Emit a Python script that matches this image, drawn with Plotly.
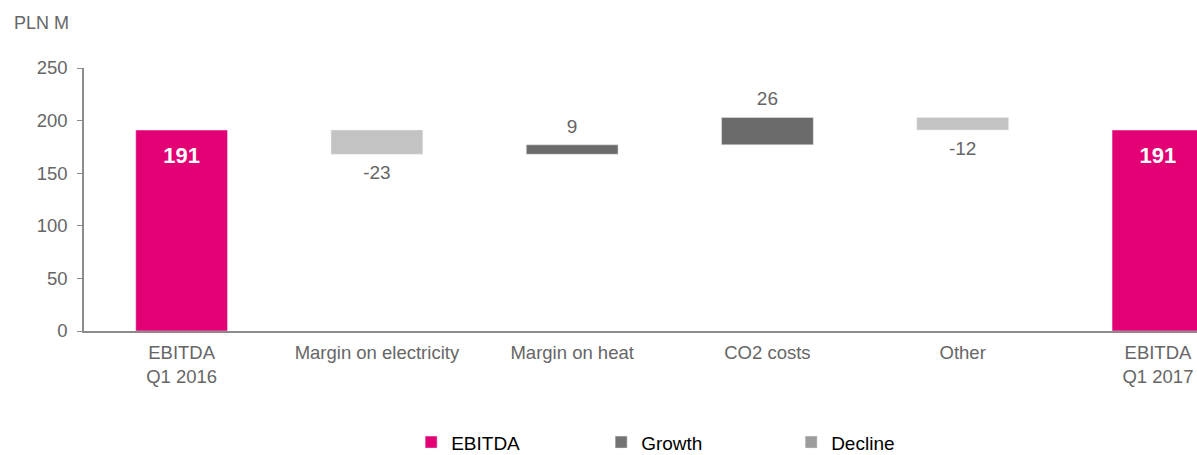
import plotly.graph_objects as go

categories = ["EBITDA<br>Q1 2016", "Margin on electricity", "Margin on heat", "CO2 costs", "Other", "EBITDA<br>Q1 2017"]
values = [191, -23, 9, 26, -12, 191]
kinds = ["total", "delta", "delta", "delta", "delta", "total"]
y_ticks = [0, 50, 100, 150, 200, 250]

MAGENTA = "#E20074"
GROWTH = "#6B6B6B"
DECLINE = "#C3C3C3"
GROWTH_LEG = "#737373"
DECLINE_LEG = "#9C9C9C"
TXT = "#666666"
FONT = "Liberation Sans, Arial, sans-serif"
BAR_W = 0.47

# bases from running total
bases = []
running = 0
for v, k in zip(values, kinds):
    if k == "total":
        bases.append(0)
        running = v
    else:
        bases.append(running)
        running += v

def pick(cond):
    idx = [i for i in range(len(values)) if cond(i)]
    return ([categories[i] for i in idx], [values[i] for i in idx], [bases[i] for i in idx])

fig = go.Figure()

# bars (not in legend)
tx, ty, tb = pick(lambda i: kinds[i] == "total")
fig.add_trace(go.Bar(x=tx, y=ty, base=tb, marker_color=MAGENTA, width=BAR_W,
                     showlegend=False, hoverinfo="skip"))
gx, gy, gb = pick(lambda i: kinds[i] == "delta" and values[i] > 0)
fig.add_trace(go.Bar(x=gx, y=gy, base=gb, marker_color=GROWTH, width=BAR_W,
                     showlegend=False, hoverinfo="skip"))
dx, dy, db = pick(lambda i: kinds[i] == "delta" and values[i] < 0)
fig.add_trace(go.Bar(x=dx, y=dy, base=db, marker_color=DECLINE, width=BAR_W,
                     showlegend=False, hoverinfo="skip"))

# value labels
fig.add_trace(go.Scatter(x=tx, y=[b + v - 26 for v, b in zip(ty, tb)], mode="text",
                         text=[str(v) for v in ty], showlegend=False, hoverinfo="skip",
                         textfont=dict(color="white", size=22, family=FONT, weight="bold")))
fig.add_trace(go.Scatter(x=gx, y=[b + v + 16 for v, b in zip(gy, gb)], mode="text",
                         text=[str(v) for v in gy], showlegend=False, hoverinfo="skip",
                         textfont=dict(color=TXT, size=19, family=FONT)))
fig.add_trace(go.Scatter(x=dx, y=[b + v - 19 for v, b in zip(dy, db)], mode="text",
                         text=[str(v) for v in dy], showlegend=False, hoverinfo="skip",
                         textfont=dict(color=TXT, size=19, family=FONT)))

# legend entries
for name, col in [("EBITDA", MAGENTA), ("Growth", GROWTH_LEG), ("Decline", DECLINE_LEG)]:
    fig.add_trace(go.Bar(name=name, x=[categories[0]], y=[None], marker_color=col,
                         width=BAR_W, hoverinfo="skip"))

fig.update_layout(
    width=1197, height=455,
    margin=dict(l=84, r=0, t=68, b=124, autoexpand=False),
    paper_bgcolor="white", plot_bgcolor="white",
    barmode="overlay",
    font=dict(family=FONT, color=TXT, size=16),
    showlegend=True,
    legend=dict(orientation="h", x=0.55, xanchor="center", y=-0.423, yanchor="middle",
                font=dict(color="black", size=19, family=FONT), entrywidth=145,
                traceorder="normal"),
    xaxis=dict(categoryorder="array", categoryarray=categories, range=[-0.5, 5.2],
               showline=True, linecolor="#8C8C8C", linewidth=1.5, ticks="",
               ticklabelstandoff=4,
               tickfont=dict(size=18.5, color=TXT), showgrid=False, fixedrange=True),
    yaxis=dict(range=[0, 250], tickvals=y_ticks, showline=True, linecolor="#8C8C8C",
               linewidth=1.5, ticks="outside", ticklen=5, tickcolor="#8C8C8C",
               ticklabelstandoff=6, fixedrange=True,
               tickfont=dict(size=18.5, color=TXT), showgrid=False, zeroline=False),
    annotations=[dict(text="PLN M", xref="paper", yref="paper", x=-0.065, y=1.17,
                      xanchor="left", yanchor="middle", showarrow=False,
                      font=dict(size=18, color=TXT, family=FONT))],
)

fig.write_html("out.html", config={"displayModeBar": False},
               post_script="document.body.style.margin='0';document.body.style.overflow='hidden';")
